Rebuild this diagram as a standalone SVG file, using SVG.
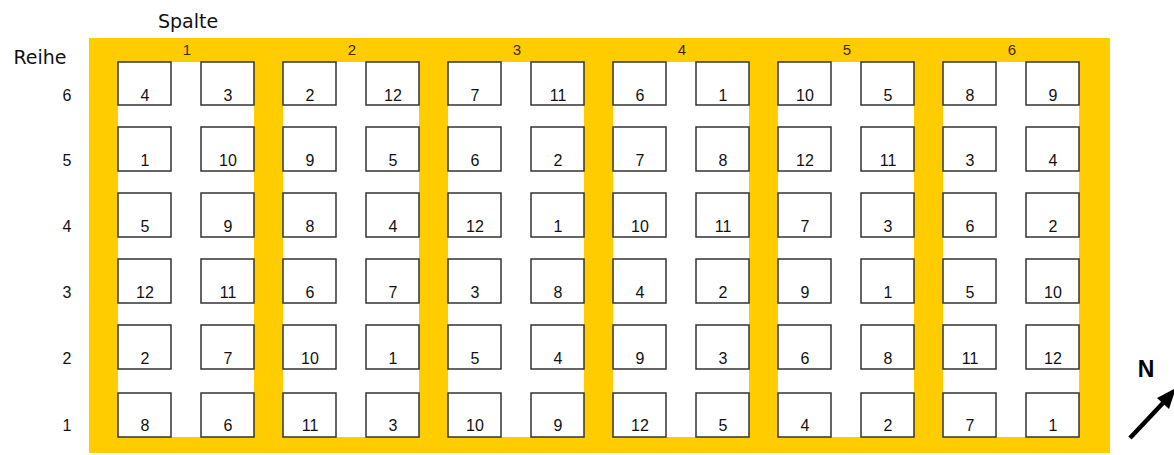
<svg xmlns="http://www.w3.org/2000/svg" width="1174" height="455" viewBox="0 0 1174 455">
<style>
.bx{fill:#fff;stroke:#333;stroke-width:1.5}
.n{font-family:"Liberation Sans",Arial,sans-serif;font-size:16px;fill:#111;text-anchor:middle}
.rl{font-family:"Liberation Sans",Arial,sans-serif;font-size:16px;fill:#111;text-anchor:middle}
.lb{font-family:"DejaVu Sans",sans-serif;font-size:19px;fill:#111;text-anchor:middle}
.cl{font-family:"Liberation Sans",Arial,sans-serif;font-size:15px;fill:#3a2a00;text-anchor:middle}
</style>
<rect width="1174" height="455" fill="#fff"/>
<rect x="89" y="38" width="1021" height="415" fill="#FFCC00"/>
<g id="strips" fill="#fff">
<rect x="118" y="62" width="136" height="375"/>
<rect x="283" y="62" width="136" height="375"/>
<rect x="448" y="62" width="136" height="375"/>
<rect x="613" y="62" width="136" height="375"/>
<rect x="778" y="62" width="136" height="375"/>
<rect x="943" y="62" width="136" height="375"/>
</g>
<text class="lb" x="188" y="28">Spalte</text>
<text class="lb" x="40" y="64">Reihe</text>
<g id="colLabels">
<text class="cl" x="187" y="55">1</text>
<text class="cl" x="352" y="55">2</text>
<text class="cl" x="517" y="55">3</text>
<text class="cl" x="682" y="55">4</text>
<text class="cl" x="847" y="55">5</text>
<text class="cl" x="1012" y="55">6</text>
</g>
<g id="rowLabels">
<text class="rl" x="67" y="101">6</text>
<text class="rl" x="67" y="166">5</text>
<text class="rl" x="67" y="232">4</text>
<text class="rl" x="67" y="298">3</text>
<text class="rl" x="67" y="364">2</text>
<text class="rl" x="67" y="431">1</text>
</g>
<g id="r6">
<g id="b6-1a"><rect class="bx" x="118" y="62" width="53" height="43"/><text class="n" x="145" y="101">4</text></g>
<g id="b6-1b"><rect class="bx" x="201" y="62" width="53" height="43"/><text class="n" x="228" y="101">3</text></g>
<g id="b6-2a"><rect class="bx" x="283" y="62" width="53" height="43"/><text class="n" x="310" y="101">2</text></g>
<g id="b6-2b"><rect class="bx" x="366" y="62" width="53" height="43"/><text class="n" x="393" y="101">12</text></g>
<g id="b6-3a"><rect class="bx" x="448" y="62" width="53" height="43"/><text class="n" x="475" y="101">7</text></g>
<g id="b6-3b"><rect class="bx" x="531" y="62" width="53" height="43"/><text class="n" x="558" y="101">11</text></g>
<g id="b6-4a"><rect class="bx" x="613" y="62" width="53" height="43"/><text class="n" x="640" y="101">6</text></g>
<g id="b6-4b"><rect class="bx" x="696" y="62" width="53" height="43"/><text class="n" x="723" y="101">1</text></g>
<g id="b6-5a"><rect class="bx" x="778" y="62" width="53" height="43"/><text class="n" x="805" y="101">10</text></g>
<g id="b6-5b"><rect class="bx" x="861" y="62" width="53" height="43"/><text class="n" x="888" y="101">5</text></g>
<g id="b6-6a"><rect class="bx" x="943" y="62" width="53" height="43"/><text class="n" x="970" y="101">8</text></g>
<g id="b6-6b"><rect class="bx" x="1026" y="62" width="53" height="43"/><text class="n" x="1053" y="101">9</text></g>
</g>
<g id="r5">
<g id="b5-1a"><rect class="bx" x="118" y="127" width="53" height="44"/><text class="n" x="145" y="166">1</text></g>
<g id="b5-1b"><rect class="bx" x="201" y="127" width="53" height="44"/><text class="n" x="228" y="166">10</text></g>
<g id="b5-2a"><rect class="bx" x="283" y="127" width="53" height="44"/><text class="n" x="310" y="166">9</text></g>
<g id="b5-2b"><rect class="bx" x="366" y="127" width="53" height="44"/><text class="n" x="393" y="166">5</text></g>
<g id="b5-3a"><rect class="bx" x="448" y="127" width="53" height="44"/><text class="n" x="475" y="166">6</text></g>
<g id="b5-3b"><rect class="bx" x="531" y="127" width="53" height="44"/><text class="n" x="558" y="166">2</text></g>
<g id="b5-4a"><rect class="bx" x="613" y="127" width="53" height="44"/><text class="n" x="640" y="166">7</text></g>
<g id="b5-4b"><rect class="bx" x="696" y="127" width="53" height="44"/><text class="n" x="723" y="166">8</text></g>
<g id="b5-5a"><rect class="bx" x="778" y="127" width="53" height="44"/><text class="n" x="805" y="166">12</text></g>
<g id="b5-5b"><rect class="bx" x="861" y="127" width="53" height="44"/><text class="n" x="888" y="166">11</text></g>
<g id="b5-6a"><rect class="bx" x="943" y="127" width="53" height="44"/><text class="n" x="970" y="166">3</text></g>
<g id="b5-6b"><rect class="bx" x="1026" y="127" width="53" height="44"/><text class="n" x="1053" y="166">4</text></g>
</g>
<g id="r4">
<g id="b4-1a"><rect class="bx" x="118" y="193" width="53" height="44"/><text class="n" x="145" y="232">5</text></g>
<g id="b4-1b"><rect class="bx" x="201" y="193" width="53" height="44"/><text class="n" x="228" y="232">9</text></g>
<g id="b4-2a"><rect class="bx" x="283" y="193" width="53" height="44"/><text class="n" x="310" y="232">8</text></g>
<g id="b4-2b"><rect class="bx" x="366" y="193" width="53" height="44"/><text class="n" x="393" y="232">4</text></g>
<g id="b4-3a"><rect class="bx" x="448" y="193" width="53" height="44"/><text class="n" x="475" y="232">12</text></g>
<g id="b4-3b"><rect class="bx" x="531" y="193" width="53" height="44"/><text class="n" x="558" y="232">1</text></g>
<g id="b4-4a"><rect class="bx" x="613" y="193" width="53" height="44"/><text class="n" x="640" y="232">10</text></g>
<g id="b4-4b"><rect class="bx" x="696" y="193" width="53" height="44"/><text class="n" x="723" y="232">11</text></g>
<g id="b4-5a"><rect class="bx" x="778" y="193" width="53" height="44"/><text class="n" x="805" y="232">7</text></g>
<g id="b4-5b"><rect class="bx" x="861" y="193" width="53" height="44"/><text class="n" x="888" y="232">3</text></g>
<g id="b4-6a"><rect class="bx" x="943" y="193" width="53" height="44"/><text class="n" x="970" y="232">6</text></g>
<g id="b4-6b"><rect class="bx" x="1026" y="193" width="53" height="44"/><text class="n" x="1053" y="232">2</text></g>
</g>
<g id="r3">
<g id="b3-1a"><rect class="bx" x="118" y="259" width="53" height="44"/><text class="n" x="145" y="298">12</text></g>
<g id="b3-1b"><rect class="bx" x="201" y="259" width="53" height="44"/><text class="n" x="228" y="298">11</text></g>
<g id="b3-2a"><rect class="bx" x="283" y="259" width="53" height="44"/><text class="n" x="310" y="298">6</text></g>
<g id="b3-2b"><rect class="bx" x="366" y="259" width="53" height="44"/><text class="n" x="393" y="298">7</text></g>
<g id="b3-3a"><rect class="bx" x="448" y="259" width="53" height="44"/><text class="n" x="475" y="298">3</text></g>
<g id="b3-3b"><rect class="bx" x="531" y="259" width="53" height="44"/><text class="n" x="558" y="298">8</text></g>
<g id="b3-4a"><rect class="bx" x="613" y="259" width="53" height="44"/><text class="n" x="640" y="298">4</text></g>
<g id="b3-4b"><rect class="bx" x="696" y="259" width="53" height="44"/><text class="n" x="723" y="298">2</text></g>
<g id="b3-5a"><rect class="bx" x="778" y="259" width="53" height="44"/><text class="n" x="805" y="298">9</text></g>
<g id="b3-5b"><rect class="bx" x="861" y="259" width="53" height="44"/><text class="n" x="888" y="298">1</text></g>
<g id="b3-6a"><rect class="bx" x="943" y="259" width="53" height="44"/><text class="n" x="970" y="298">5</text></g>
<g id="b3-6b"><rect class="bx" x="1026" y="259" width="53" height="44"/><text class="n" x="1053" y="298">10</text></g>
</g>
<g id="r2">
<g id="b2-1a"><rect class="bx" x="118" y="325" width="53" height="44"/><text class="n" x="145" y="364">2</text></g>
<g id="b2-1b"><rect class="bx" x="201" y="325" width="53" height="44"/><text class="n" x="228" y="364">7</text></g>
<g id="b2-2a"><rect class="bx" x="283" y="325" width="53" height="44"/><text class="n" x="310" y="364">10</text></g>
<g id="b2-2b"><rect class="bx" x="366" y="325" width="53" height="44"/><text class="n" x="393" y="364">1</text></g>
<g id="b2-3a"><rect class="bx" x="448" y="325" width="53" height="44"/><text class="n" x="475" y="364">5</text></g>
<g id="b2-3b"><rect class="bx" x="531" y="325" width="53" height="44"/><text class="n" x="558" y="364">4</text></g>
<g id="b2-4a"><rect class="bx" x="613" y="325" width="53" height="44"/><text class="n" x="640" y="364">9</text></g>
<g id="b2-4b"><rect class="bx" x="696" y="325" width="53" height="44"/><text class="n" x="723" y="364">3</text></g>
<g id="b2-5a"><rect class="bx" x="778" y="325" width="53" height="44"/><text class="n" x="805" y="364">6</text></g>
<g id="b2-5b"><rect class="bx" x="861" y="325" width="53" height="44"/><text class="n" x="888" y="364">8</text></g>
<g id="b2-6a"><rect class="bx" x="943" y="325" width="53" height="44"/><text class="n" x="970" y="364">11</text></g>
<g id="b2-6b"><rect class="bx" x="1026" y="325" width="53" height="44"/><text class="n" x="1053" y="364">12</text></g>
</g>
<g id="r1">
<g id="b1-1a"><rect class="bx" x="118" y="393" width="53" height="44"/><text class="n" x="145" y="431">8</text></g>
<g id="b1-1b"><rect class="bx" x="201" y="393" width="53" height="44"/><text class="n" x="228" y="431">6</text></g>
<g id="b1-2a"><rect class="bx" x="283" y="393" width="53" height="44"/><text class="n" x="310" y="431">11</text></g>
<g id="b1-2b"><rect class="bx" x="366" y="393" width="53" height="44"/><text class="n" x="393" y="431">3</text></g>
<g id="b1-3a"><rect class="bx" x="448" y="393" width="53" height="44"/><text class="n" x="475" y="431">10</text></g>
<g id="b1-3b"><rect class="bx" x="531" y="393" width="53" height="44"/><text class="n" x="558" y="431">9</text></g>
<g id="b1-4a"><rect class="bx" x="613" y="393" width="53" height="44"/><text class="n" x="640" y="431">12</text></g>
<g id="b1-4b"><rect class="bx" x="696" y="393" width="53" height="44"/><text class="n" x="723" y="431">5</text></g>
<g id="b1-5a"><rect class="bx" x="778" y="393" width="53" height="44"/><text class="n" x="805" y="431">4</text></g>
<g id="b1-5b"><rect class="bx" x="861" y="393" width="53" height="44"/><text class="n" x="888" y="431">2</text></g>
<g id="b1-6a"><rect class="bx" x="943" y="393" width="53" height="44"/><text class="n" x="970" y="431">7</text></g>
<g id="b1-6b"><rect class="bx" x="1026" y="393" width="53" height="44"/><text class="n" x="1053" y="431">1</text></g>
</g>
<g id="north">
<text x="1146" y="377" font-family="Liberation Sans,Arial,sans-serif" font-size="23" font-weight="bold" text-anchor="middle" fill="#000">N</text>
<line x1="1130" y1="438" x2="1163" y2="403" stroke="#000" stroke-width="4.5"/>
<polygon points="1176,388 1157,398 1169,409" fill="#000"/>
</g>
</svg>
